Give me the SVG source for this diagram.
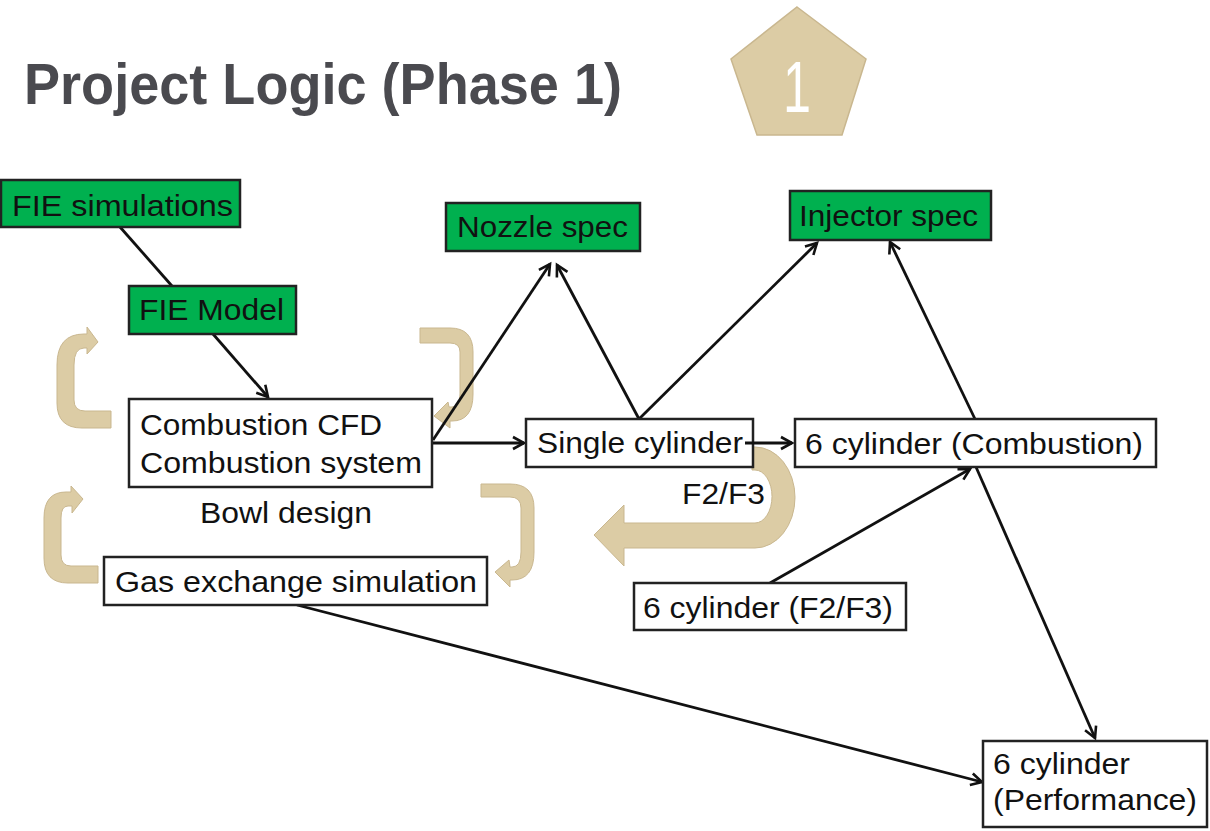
<svg xmlns="http://www.w3.org/2000/svg" width="1210" height="831" viewBox="0 0 1210 831">
<style>
.box{fill:#fff;stroke:#222;stroke-width:2.5}
.gbox{fill:#00b04f;stroke:#222;stroke-width:2.5}
.t{font-family:"Liberation Sans",Arial,sans-serif;font-size:29px;fill:#111}
.tan{fill:#dccca5;stroke:#c9b78f;stroke-width:1}
.c{stroke:#111;stroke-width:2.8;fill:none}
</style>
<defs>
<marker id="ah" markerWidth="16" markerHeight="16" refX="13" refY="8" orient="auto" markerUnits="userSpaceOnUse">
<path d="M2,2 L13,8 L2,14" fill="none" stroke="#111" stroke-width="2.6"/>
</marker>
</defs>
<rect width="1210" height="831" fill="#fff"/>
<g id="title">
<text x="24" y="104" font-family="Liberation Sans,Arial,sans-serif" font-weight="bold" font-size="57" fill="#4a4a4f" textLength="598" lengthAdjust="spacingAndGlyphs">Project Logic (Phase 1)</text>
</g>
<g id="badge">
<polygon points="797,7 866,59 842,135 757,135 731,59" fill="#dccca5" stroke="#c9b78f" stroke-width="1.5"/>
<text x="797" y="112" text-anchor="middle" font-family="Liberation Sans,Arial,sans-serif" font-size="72" fill="#fff" textLength="28" lengthAdjust="spacingAndGlyphs">1</text>
</g>
<g id="loops">
<path class="tan" d="M111,411 L111,428 L82,428 Q57,428 57,403 L57,365 Q57,334 84,334 L87,334 L87,327 L98,342 L87,354 L87,348 L84,348 Q74,348 74,365 L74,400 Q74,411 85,411 Z"/>
<path class="tan" d="M420,328 L450,328 Q473,328 473,352 L473,394 Q473,421 452,421 L450,421 L450,428 L434,416 L448,402 L449,407 L452,407 Q460,407 460,394 L460,352 Q460,343 450,343 L420,343 Z"/>
<path class="tan" d="M98,566 L98,583 L68,583 Q44,583 44,558 L44,518 Q44,492 66,492 L71,492 L71,486 L83,499 L72,513 L72,506 L68,506 Q61,506 61,518 L61,555 Q61,566 71,566 Z"/>
<path class="tan" d="M481,484 L510,484 Q534,484 534,508 L534,552 Q534,580 512,580 L510,580 L510,587 L495,572 L509,560 L510,567 L512,567 Q521,567 521,552 L521,508 Q521,497 510,497 L481,497 Z"/>
<path class="tan" d="M752,447 L755,447 A40,50.5 0 0 1 755,548 L624,548 L624,566 L594,535 L624,505 L624,523 L755,523 A17,26.5 0 0 0 755,470 L752,470 Z"/>
</g>
<g id="connectors">
<line class="c" x1="120" y1="227" x2="172" y2="286"/>
<line class="c" x1="213" y1="334" x2="268" y2="397" marker-end="url(#ah)"/>
<line class="c" x1="433" y1="440" x2="550" y2="264" marker-end="url(#ah)"/>
<line class="c" x1="433" y1="443" x2="524" y2="443" marker-end="url(#ah)"/>
<line class="c" x1="639" y1="419" x2="557" y2="265" marker-end="url(#ah)"/>
<line class="c" x1="639" y1="419" x2="817" y2="243" marker-end="url(#ah)"/>
<line class="c" x1="975" y1="419" x2="890" y2="242" marker-end="url(#ah)"/>
<line class="c" x1="770" y1="583" x2="970" y2="469" marker-end="url(#ah)"/>
<line class="c" x1="976" y1="467" x2="1095" y2="738" marker-end="url(#ah)"/>
<line class="c" x1="297" y1="605" x2="982" y2="782" marker-end="url(#ah)"/>
</g>
<g id="fie-sim"><rect class="gbox" x="1" y="180" width="239" height="47"/><text class="t" x="12" y="216" textLength="221" lengthAdjust="spacingAndGlyphs">FIE simulations</text></g>
<g id="fie-model"><rect class="gbox" x="129" y="286" width="167" height="48"/><text class="t" x="139" y="320" textLength="145" lengthAdjust="spacingAndGlyphs">FIE Model</text></g>
<g id="nozzle"><rect class="gbox" x="446" y="203" width="194" height="48"/><text class="t" x="457" y="237" textLength="171" lengthAdjust="spacingAndGlyphs">Nozzle spec</text></g>
<g id="injector"><rect class="gbox" x="790" y="191" width="201" height="49"/><text class="t" x="799" y="226" textLength="179" lengthAdjust="spacingAndGlyphs">Injector spec</text></g>
<g id="combustion"><rect class="box" x="129" y="399" width="303" height="88"/>
<text class="t" x="140" y="435" textLength="242" lengthAdjust="spacingAndGlyphs">Combustion CFD</text>
<text class="t" x="140" y="473" textLength="282" lengthAdjust="spacingAndGlyphs">Combustion system</text></g>
<g id="bowl"><text class="t" x="200" y="523" textLength="172" lengthAdjust="spacingAndGlyphs">Bowl design</text></g>
<g id="gas"><rect class="box" x="104" y="557" width="383" height="48"/><text class="t" x="115" y="592" textLength="362" lengthAdjust="spacingAndGlyphs">Gas exchange simulation</text></g>
<g id="single"><rect class="box" x="526" y="419" width="227" height="48"/><text class="t" x="537" y="453" textLength="206" lengthAdjust="spacingAndGlyphs">Single cylinder</text></g>
<line class="c" x1="745" y1="443" x2="792" y2="443" marker-end="url(#ah)"/>
<g id="six-comb"><rect class="box" x="795" y="419" width="361" height="48"/><text class="t" x="805" y="454" textLength="338" lengthAdjust="spacingAndGlyphs">6 cylinder (Combustion)</text></g>
<g id="f2f3-label"><text class="t" x="682" y="504" textLength="83" lengthAdjust="spacingAndGlyphs">F2/F3</text></g>
<g id="six-f2f3"><rect class="box" x="634" y="583" width="272" height="47"/><text class="t" x="643" y="618" textLength="250" lengthAdjust="spacingAndGlyphs">6 cylinder (F2/F3)</text></g>
<g id="six-perf"><rect class="box" x="983" y="741" width="224" height="86"/>
<text class="t" x="993" y="774" textLength="137" lengthAdjust="spacingAndGlyphs">6 cylinder</text>
<text class="t" x="993" y="810" textLength="204" lengthAdjust="spacingAndGlyphs">(Performance)</text></g>
</svg>
